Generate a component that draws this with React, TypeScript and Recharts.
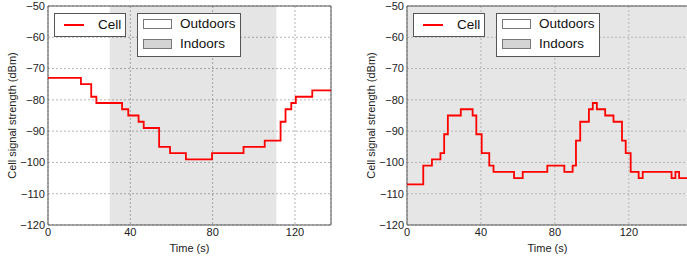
import { LineChart, Line, XAxis, YAxis, CartesianGrid, ReferenceArea, Legend } from "recharts"

// time (s) where each step starts, and the signal held from there (dBm)
const leftTimes = [0, 16, 21, 23.5, 36, 39, 44, 46.5, 54, 59.3, 67, 79.7, 95, 105.3, 113, 115.4, 118.2, 120.4, 128.4, 137.5]
const leftValues = [-73, -75, -79, -81, -83, -85, -87, -89, -95, -97, -99, -97, -95, -93, -87, -83, -81, -79, -77, -77]

const rightTimes = [0, 8.8, 13.5, 18.1, 20.1, 22.1, 29.1, 35.5, 37.5, 40.4, 44.5, 46.8, 57.9, 62.6, 75.9, 85.1, 89.6, 91.4, 93.7, 98.4, 100.5, 102.7, 107.2, 111.7, 116.3, 118.3, 121, 125.3, 127.5, 143.1, 145.2, 147.2, 152]
const rightValues = [-107, -101, -99, -97, -91, -85, -83, -85, -91, -97, -101, -103, -105, -103, -101, -103, -101, -93, -87, -83, -81, -83, -85, -87, -93, -97, -103, -105, -103, -105, -103, -105, -105]

// indoor stretch of the first walk
const indoorStart = 30
const indoorEnd = 111

const xTicks = [0, 40, 80, 120]
const yTicks = [-120, -110, -100, -90, -80, -70, -60, -50]

const font = "'Liberation Sans', Arial, sans-serif"

const toRows = (times: number[], values: number[]) => times.map((t, i) => ({ t, v: values[i] }))

const fmtY = (v: number) => (v < 0 ? `\u2212${-v}` : `${v}`)

function LegendBoxes() {
  const box = { position: "absolute" as const, background: "#fff", border: "1px solid #555", boxSizing: "border-box" as const }
  const txt = { position: "absolute" as const, fontSize: 13.5, fontFamily: font, color: "#111", lineHeight: "16px" }
  const patch = { position: "absolute" as const, left: 5, width: 29, height: 10, border: "1px solid #777", boxSizing: "border-box" as const }
  return (
    <div style={{ position: "relative", width: 190, height: 46 }}>
      <div style={{ ...box, left: 0, top: 0, width: 72, height: 24 }}>
        <div style={{ position: "absolute", left: 9, top: 10, width: 20, height: 2, background: "#ff0000" }} />
        <span style={{ ...txt, left: 43, top: 3 }}>Cell</span>
      </div>
      <div style={{ ...box, left: 83, top: 0, width: 104, height: 44 }}>
        <div style={{ ...patch, top: 5, background: "#fff" }} />
        <span style={{ ...txt, left: 42, top: 2 }}>Outdoors</span>
        <div style={{ ...patch, top: 25, background: "#d4d4d4" }} />
        <span style={{ ...txt, left: 42, top: 22 }}>Indoors</span>
      </div>
    </div>
  )
}

function SignalChart({ times, values, xMax, allIndoors }: { times: number[]; values: number[]; xMax: number; allIndoors: boolean }) {
  const plotW = allIndoors ? 281 : 283
  return (
    <LineChart
      width={48 + plotW + 9}
      height={258}
      data={toRows(times, values)}
      margin={{ top: 6, right: 9, left: 0, bottom: 0 }}
      style={{ fontFamily: font }}
    >
      <CartesianGrid stroke="#b5b5b5" strokeDasharray="2 2" fill={allIndoors ? "#e6e6e6" : "none"} fillOpacity={1} />
      {!allIndoors && (
        <ReferenceArea x1={indoorStart} x2={indoorEnd} y1={-120} y2={-50} fill="#000" fillOpacity={0.1} stroke="none" />
      )}
      <ReferenceArea x1={0} x2={xMax} y1={-120} y2={-50} fill="none" stroke="#555" strokeWidth={1} />
      <XAxis
        dataKey="t"
        type="number"
        domain={[0, xMax]}
        ticks={xTicks}
        height={33}
        axisLine={false}
        tickLine={false}
        tickSize={0}
        tickMargin={3}
        tick={{ fontSize: 11, fill: "#222" }}
        allowDataOverflow
        label={{ value: "Time (s)", position: "insideBottom", offset: 6, fontSize: 11, fill: "#222" }}
      />
      <YAxis
        type="number"
        domain={[-120, -50]}
        ticks={yTicks}
        width={48}
        axisLine={false}
        tickLine={false}
        tickSize={0}
        tickMargin={3}
        tickFormatter={fmtY}
        tick={{ fontSize: 11, fill: "#222" }}
        label={{ value: "Cell signal strength (dBm)", angle: -90, position: "insideLeft", offset: 12, fontSize: 11, fill: "#222", style: { textAnchor: "middle" } }}
      />
      <Legend
        layout="vertical"
        align="center"
        verticalAlign="middle"
        content={() => <LegendBoxes />}
        wrapperStyle={{ left: 54, top: 13, width: 190, height: 46 }}
      />
      <Line
        type="stepAfter"
        dataKey="v"
        stroke="#ff0000"
        strokeWidth={1.8}
        dot={false}
        isAnimationActive={false}
        name="Cell"
      />
    </LineChart>
  )
}

export default function App() {
  return (
    <div style={{ position: "absolute", left: 0, top: 0, width: 687, height: 258, overflow: "hidden", background: "#fff" }}>
      <div style={{ position: "absolute", left: 0, top: 0 }}>
        <SignalChart times={leftTimes} values={leftValues} xMax={137.5} allIndoors={false} />
      </div>
      <div style={{ position: "absolute", left: 359, top: 0 }}>
        <SignalChart times={rightTimes} values={rightValues} xMax={152} allIndoors={true} />
      </div>
    </div>
  )
}
